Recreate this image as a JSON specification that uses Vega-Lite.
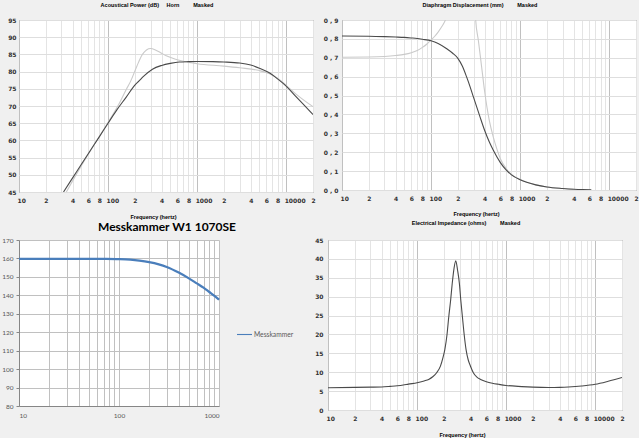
{
"$schema": "https://vega.github.io/schema/vega-lite/v6.json",
"background": "#f0f0f0",
"padding": {"left": 0, "top": 2, "right": 0, "bottom": 0},
"spacing": 0,
"resolve": {"scale": {"color": "independent"}, "legend": {"color": "independent"}},
"datasets": {
"tl": [
{"s":"b","f":34,"v":45},{"s":"b","f":50,"v":52.6},{"s":"b","f":70,"v":58.8},{"s":"b","f":100,"v":65.2},{"s":"b","f":130,"v":70.2},{"s":"b","f":160,"v":74.8},{"s":"b","f":180,"v":77.3},{"s":"b","f":210,"v":81.5},{"s":"b","f":243,"v":85},{"s":"b","f":270,"v":86.3},{"s":"b","f":300,"v":86.7},{"s":"b","f":340,"v":86.3},{"s":"b","f":389,"v":85.5},{"s":"b","f":450,"v":84.6},{"s":"b","f":573,"v":83.6},{"s":"b","f":700,"v":83},{"s":"b","f":1000,"v":82.3},{"s":"b","f":2000,"v":81.6},{"s":"b","f":3000,"v":81.1},{"s":"b","f":5000,"v":80.3},{"s":"b","f":6500,"v":79.4},{"s":"b","f":8000,"v":78.1},{"s":"b","f":10000,"v":76},{"s":"b","f":13000,"v":73.4},{"s":"b","f":20000,"v":69.8},
{"s":"a","f":31.6,"v":45},{"s":"a","f":40,"v":49.1},{"s":"a","f":50,"v":53},{"s":"a","f":63,"v":57},{"s":"a","f":80,"v":61.1},{"s":"a","f":100,"v":65},{"s":"a","f":125,"v":68.8},{"s":"a","f":160,"v":72.6},{"s":"a","f":200,"v":76.1},{"s":"a","f":223,"v":77.3},{"s":"a","f":250,"v":78.6},{"s":"a","f":315,"v":80.7},{"s":"a","f":400,"v":81.8},{"s":"a","f":500,"v":82.4},{"s":"a","f":630,"v":82.8},{"s":"a","f":800,"v":82.9},{"s":"a","f":1000,"v":82.95},{"s":"a","f":1500,"v":82.9},{"s":"a","f":2000,"v":82.8},{"s":"a","f":3000,"v":82.5},{"s":"a","f":4000,"v":81.9},{"s":"a","f":5000,"v":81},{"s":"a","f":6300,"v":79.8},{"s":"a","f":8000,"v":77.9},{"s":"a","f":10000,"v":75.8},{"s":"a","f":12500,"v":73.1},{"s":"a","f":16000,"v":70.2},{"s":"a","f":20000,"v":67.5}
],
"tr": [
{"s":"b","f":10,"v":0.703},{"s":"b","f":20,"v":0.704},{"s":"b","f":30,"v":0.707},{"s":"b","f":40,"v":0.712},{"s":"b","f":50,"v":0.718},{"s":"b","f":60,"v":0.727},{"s":"b","f":70,"v":0.739},{"s":"b","f":80,"v":0.755},{"s":"b","f":90,"v":0.773},{"s":"b","f":100,"v":0.794},{"s":"b","f":110,"v":0.814},{"s":"b","f":120,"v":0.836},{"s":"b","f":130,"v":0.86},{"s":"b","f":140,"v":0.886},{"s":"b","f":150,"v":0.915},{"s":"b","f":170,"v":1.0},{"s":"b","f":200,"v":1.2},{"s":"b","f":240,"v":2},{"s":"b","f":270,"v":3},{"s":"b","f":300,"v":1.4},{"s":"b","f":317,"v":0.9},{"s":"b","f":340,"v":0.79},{"s":"b","f":370,"v":0.65},{"s":"b","f":400,"v":0.52},{"s":"b","f":450,"v":0.37},{"s":"b","f":500,"v":0.28},{"s":"b","f":550,"v":0.215},{"s":"b","f":600,"v":0.165},{"s":"b","f":700,"v":0.112},{"s":"b","f":800,"v":0.082},{"s":"b","f":1000,"v":0.055},{"s":"b","f":1500,"v":0.027},{"s":"b","f":2000,"v":0.016},{"s":"b","f":3000,"v":0.008},{"s":"b","f":4000,"v":0.004},
{"s":"a","f":10,"v":0.815},{"s":"a","f":20,"v":0.814},{"s":"a","f":30,"v":0.812},{"s":"a","f":40,"v":0.81},{"s":"a","f":50,"v":0.808},{"s":"a","f":60,"v":0.805},{"s":"a","f":70,"v":0.802},{"s":"a","f":80,"v":0.798},{"s":"a","f":100,"v":0.79},{"s":"a","f":120,"v":0.776},{"s":"a","f":150,"v":0.748},{"s":"a","f":175,"v":0.724},{"s":"a","f":200,"v":0.697},{"s":"a","f":225,"v":0.655},{"s":"a","f":250,"v":0.6},{"s":"a","f":275,"v":0.545},{"s":"a","f":300,"v":0.49},{"s":"a","f":350,"v":0.395},{"s":"a","f":400,"v":0.315},{"s":"a","f":450,"v":0.255},{"s":"a","f":500,"v":0.21},{"s":"a","f":600,"v":0.145},{"s":"a","f":700,"v":0.105},{"s":"a","f":800,"v":0.08},{"s":"a","f":1000,"v":0.054},{"s":"a","f":1500,"v":0.027},{"s":"a","f":2000,"v":0.016},{"s":"a","f":3000,"v":0.008},{"s":"a","f":4000,"v":0.004},{"s":"a","f":5000,"v":0.002},{"s":"a","f":6300,"v":0.001}
],
"bl": [
{"s":"Messkammer","f":10,"v":159.8},{"s":"Messkammer","f":20,"v":159.8},{"s":"Messkammer","f":30,"v":159.8},{"s":"Messkammer","f":50,"v":159.8},{"s":"Messkammer","f":70,"v":159.75},{"s":"Messkammer","f":100,"v":159.6},{"s":"Messkammer","f":130,"v":159.3},{"s":"Messkammer","f":160,"v":158.8},{"s":"Messkammer","f":200,"v":158},{"s":"Messkammer","f":250,"v":156.8},{"s":"Messkammer","f":300,"v":155.4},{"s":"Messkammer","f":400,"v":152.2},{"s":"Messkammer","f":500,"v":149.2},{"s":"Messkammer","f":600,"v":146.5},{"s":"Messkammer","f":700,"v":144.2},{"s":"Messkammer","f":800,"v":141.8},{"s":"Messkammer","f":900,"v":139.7},{"s":"Messkammer","f":1000,"v":137.6}
],
"br": [
{"s":"a","f":10,"v":5.9},{"s":"a","f":20,"v":6.0},{"s":"a","f":30,"v":6.05},{"s":"a","f":40,"v":6.1},{"s":"a","f":50,"v":6.25},{"s":"a","f":60,"v":6.4},{"s":"a","f":70,"v":6.6},{"s":"a","f":80,"v":6.85},{"s":"a","f":100,"v":7.2},{"s":"a","f":120,"v":7.7},{"s":"a","f":135,"v":8.1},{"s":"a","f":150,"v":8.8},{"s":"a","f":165,"v":9.8},{"s":"a","f":183,"v":11.6},{"s":"a","f":195,"v":13.8},{"s":"a","f":205,"v":16},{"s":"a","f":217,"v":20},{"s":"a","f":227,"v":24.7},{"s":"a","f":238,"v":29},{"s":"a","f":248,"v":33.4},{"s":"a","f":260,"v":37.5},{"s":"a","f":272,"v":39.5},{"s":"a","f":285,"v":37},{"s":"a","f":299,"v":33.4},{"s":"a","f":310,"v":29},{"s":"a","f":323,"v":24.7},{"s":"a","f":338,"v":20},{"s":"a","f":355,"v":16},{"s":"a","f":375,"v":13.3},{"s":"a","f":398,"v":11.6},{"s":"a","f":430,"v":9.8},{"s":"a","f":470,"v":8.7},{"s":"a","f":517,"v":8.1},{"s":"a","f":600,"v":7.5},{"s":"a","f":700,"v":7.1},{"s":"a","f":826,"v":6.8},{"s":"a","f":1000,"v":6.5},{"s":"a","f":1500,"v":6.2},{"s":"a","f":2000,"v":6.05},{"s":"a","f":3000,"v":5.95},{"s":"a","f":4000,"v":6.0},{"s":"a","f":5000,"v":6.1},{"s":"a","f":7000,"v":6.35},{"s":"a","f":10000,"v":6.8},{"s":"a","f":14000,"v":7.6},{"s":"a","f":20000,"v":8.6}
]
},
"config": {
"view": {"stroke": "#707070", "strokeWidth": 1, "fill": "#ffffff"},
"axis": {"labelFont": "DejaVu Sans", "labelFontWeight": "bold", "labelFontSize": 6, "labelColor": "#303030", "titleFont": "Liberation Sans", "titleFontWeight": "bold", "titleFontSize": 5.5, "titleColor": "#000000", "domain": false, "ticks": false, "tickSize": 0, "gridWidth": 1, "labelOverlap": false},
"title": {"font": "Liberation Sans", "fontWeight": "bold", "fontSize": 5.5, "color": "#000000", "frame": "group", "baseline": "bottom", "offset": 9, "anchor": "middle"},
"line": {"strokeWidth": 1.1, "interpolate": "monotone"}
},
"vconcat": [
{"spacing": 5, "hconcat": [
{
"width": 294, "height": 172,
"title": {"text": "Acoustical Power (dB)\u00a0\u00a0\u00a0\u00a0\u00a0Horn\u00a0\u00a0\u00a0\u00a0\u00a0\u00a0\u00a0\u00a0\u00a0Masked", "dx": -9},
"data": {"name": "tl"},
"encoding": {
"x": {"field": "f", "type": "quantitative", "scale": {"type": "log", "domain": [10, 20000], "nice": false},
"axis": {"title": "Frequency (hertz)", "titleX": 134, "titleY": 22, "titleAlign": "center", "titleBaseline": "top", "values": [10,20,30,40,50,60,70,80,90,100,200,300,400,500,600,700,800,900,1000,2000,3000,4000,5000,6000,7000,8000,9000,10000,20000],
"labelExpr": "round(datum.value/pow(10,floor(log(datum.value)/LN10+0.000001)))==1 ? format(datum.value,'d') : (indexof([2,4,6,8], round(datum.value/pow(10,floor(log(datum.value)/LN10+0.000001))))>=0 ? format(round(datum.value/pow(10,floor(log(datum.value)/LN10+0.000001))),'d') : '')",
"labelAlign": {"condition": {"test": "round(datum.value/pow(10,floor(log(datum.value)/LN10+0.000001)))==1", "value": "left"}, "value": "center"},
"labelOffset": {"condition": {"test": "round(datum.value/pow(10,floor(log(datum.value)/LN10+0.000001)))==1", "value": -2}, "value": 0},
"gridColor": {"condition": {"test": "round(datum.value/pow(10,floor(log(datum.value)/LN10+0.000001)))==1", "value": "#c0c0c0"}, "value": "#e4e4e4"},
"labelPadding": 5}},
"y": {"field": "v", "type": "quantitative", "scale": {"domain": [45, 95], "nice": false, "zero": false},
"axis": {"title": null, "values": [45,50,55,60,65,70,75,80,85,90,95], "gridColor": "#dedede", "labelPadding": 3, "minExtent": 18, "maxExtent": 18}}
},
"layer": [
{"transform": [{"filter": "datum.s == 'b'"}], "mark": {"type": "line", "color": "#cacaca", "clip": true}},
{"transform": [{"filter": "datum.s == 'a'"}], "mark": {"type": "line", "color": "#4a4a4a", "clip": true}}
]
},
{
"width": 294, "height": 170,
"title": {"text": "Diaphragm Displacement (mm)\u00a0\u00a0\u00a0\u00a0\u00a0\u00a0\u00a0\u00a0\u00a0Masked", "dx": -9},
"data": {"name": "tr"},
"encoding": {
"x": {"field": "f", "type": "quantitative", "scale": {"type": "log", "domain": [10, 20000], "nice": false},
"axis": {"title": "Frequency (hertz)", "titleX": 134, "titleY": 21, "titleAlign": "center", "titleBaseline": "top", "values": [10,20,30,40,50,60,70,80,90,100,200,300,400,500,600,700,800,900,1000,2000,3000,4000,5000,6000,7000,8000,9000,10000,20000],
"labelExpr": "round(datum.value/pow(10,floor(log(datum.value)/LN10+0.000001)))==1 ? format(datum.value,'d') : (indexof([2,4,6,8], round(datum.value/pow(10,floor(log(datum.value)/LN10+0.000001))))>=0 ? format(round(datum.value/pow(10,floor(log(datum.value)/LN10+0.000001))),'d') : '')",
"labelAlign": {"condition": {"test": "round(datum.value/pow(10,floor(log(datum.value)/LN10+0.000001)))==1", "value": "left"}, "value": "center"},
"labelOffset": {"condition": {"test": "round(datum.value/pow(10,floor(log(datum.value)/LN10+0.000001)))==1", "value": -2}, "value": 0},
"gridColor": {"condition": {"test": "round(datum.value/pow(10,floor(log(datum.value)/LN10+0.000001)))==1", "value": "#c0c0c0"}, "value": "#e4e4e4"},
"labelPadding": 5}},
"y": {"field": "v", "type": "quantitative", "scale": {"domain": [0, 0.9], "nice": false, "zero": false},
"axis": {"title": null, "values": [0,0.1,0.2,0.3,0.4,0.5,0.6,0.7,0.8,0.9], "labelExpr": "replace(format(datum.value,'.1f'),'.',' , ')", "gridColor": "#dedede", "labelPadding": 4, "minExtent": 20, "maxExtent": 20}}
},
"layer": [
{"transform": [{"filter": "datum.s == 'b'"}], "mark": {"type": "line", "color": "#cacaca", "clip": true}},
{"transform": [{"filter": "datum.s == 'a'"}], "mark": {"type": "line", "color": "#4a4a4a", "clip": true}}
]
}
]},
{"spacing": 19, "resolve": {"scale": {"color": "independent"}, "legend": {"color": "independent"}}, "hconcat": [
{
"width": 200, "height": 166,
"view": {"stroke": null, "fill": "#ffffff"},
"title": {"text": "Messkammer W1 1070SE", "font": "Lato", "fontSize": 12, "fontWeight": "bold", "offset": 3, "dx": 48, "color": "#000000"},
"data": {"name": "bl"},
"mark": {"type": "line", "strokeWidth": 2.25, "interpolate": "monotone"},
"encoding": {
"x": {"field": "f", "type": "quantitative", "scale": {"type": "log", "domain": [10, 1000], "nice": false},
"axis": {"title": null, "values": [10,20,30,40,50,60,70,80,90,100,200,300,400,500,600,700,800,900,1000],
"labelExpr": "round(datum.value/pow(10,floor(log(datum.value)/LN10+0.000001)))==1 ? format(datum.value,'d') : ''",
"gridColor": "#c0c0c0", "domain": true, "domainColor": "#868686", "labelFont": "Lato", "labelFontWeight": "normal", "labelFontSize": 6.5, "labelColor": "#595959", "labelPadding": 6}},
"y": {"field": "v", "type": "quantitative", "scale": {"domain": [80, 170], "nice": false, "zero": false},
"axis": {"title": null, "values": [80,90,100,110,120,130,140,150,160,170], "gridColor": "#c0c0c0", "domain": true, "domainColor": "#868686", "ticks": true, "tickSize": 3, "tickColor": "#868686", "labelFont": "Lato", "labelFontWeight": "normal", "labelFontSize": 6.5, "labelColor": "#595959", "labelPadding": 3, "minExtent": 18, "maxExtent": 18}},
"color": {"field": "s", "type": "nominal", "scale": {"domain": ["Messkammer"], "range": ["#4a7ebb"]},
"legend": {"title": null, "orient": "none", "legendX": 217, "legendY": 86, "padding": 0, "symbolType": "stroke", "symbolSize": 225, "symbolStrokeWidth": 2.25, "symbolOffset": 0, "labelOffset": 1, "labelFont": "Lato", "labelFontSize": 6.7, "labelColor": "#595959"}}
}
},
{
"width": 294, "height": 170,
"title": {"text": "Electrical Impedance (ohms)\u00a0\u00a0\u00a0\u00a0\u00a0\u00a0\u00a0\u00a0\u00a0Masked", "offset": 11, "dx": -9},
"data": {"name": "br"},
"mark": {"type": "line", "color": "#4a4a4a", "clip": true},
"encoding": {
"x": {"field": "f", "type": "quantitative", "scale": {"type": "log", "domain": [10, 20000], "nice": false},
"axis": {"title": "Frequency (hertz)", "titleX": 134, "titleY": 22, "titleAlign": "center", "titleBaseline": "top", "values": [10,20,30,40,50,60,70,80,90,100,200,300,400,500,600,700,800,900,1000,2000,3000,4000,5000,6000,7000,8000,9000,10000,20000],
"labelExpr": "round(datum.value/pow(10,floor(log(datum.value)/LN10+0.000001)))==1 ? format(datum.value,'d') : (indexof([2,4,6,8], round(datum.value/pow(10,floor(log(datum.value)/LN10+0.000001))))>=0 ? format(round(datum.value/pow(10,floor(log(datum.value)/LN10+0.000001))),'d') : '')",
"labelAlign": {"condition": {"test": "round(datum.value/pow(10,floor(log(datum.value)/LN10+0.000001)))==1", "value": "left"}, "value": "center"},
"labelOffset": {"condition": {"test": "round(datum.value/pow(10,floor(log(datum.value)/LN10+0.000001)))==1", "value": -2}, "value": 0},
"gridColor": {"condition": {"test": "round(datum.value/pow(10,floor(log(datum.value)/LN10+0.000001)))==1", "value": "#c0c0c0"}, "value": "#e4e4e4"},
"labelPadding": 5}},
"y": {"field": "v", "type": "quantitative", "scale": {"domain": [0, 45], "nice": false, "zero": false},
"axis": {"title": null, "values": [0,5,10,15,20,25,30,35,40,45], "gridColor": "#dedede", "labelPadding": 5, "minExtent": 14, "maxExtent": 14}}
}
}
]}
]
}
